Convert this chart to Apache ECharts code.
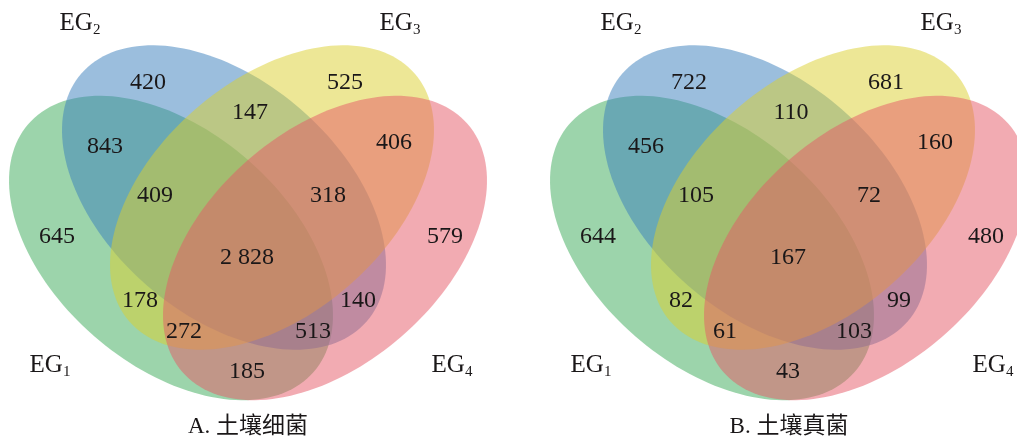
<!DOCTYPE html>
<html>
<head>
<meta charset="utf-8">
<script src="https://cdn.jsdelivr.net/npm/echarts@6/dist/echarts.min.js"></script>
<style>
  html, body { margin: 0; padding: 0; background: #fff; }
  #chart { width: 1017px; height: 439px; }
</style>
</head>
<body>
<div id="chart"></div>
<script>
// ---- data ----
const setNames = ['EG1', 'EG2', 'EG3', 'EG4'];
// regions named by the sets they belong to
const regionKeys = ['1', '2', '3', '4', '12', '23', '34', '123', '234', '1234', '13', '24', '134', '124', '14'];
const bacteriaCounts = [645, 420, 525, 579, 843, 147, 406, 409, 318, 2828, 178, 140, 272, 513, 185];
const fungiCounts = [644, 722, 681, 480, 456, 110, 160, 105, 72, 167, 82, 99, 61, 103, 43];
const panelTitles = ['A. 土壤细菌', 'B. 土壤真菌'];

// ---- layout (venn units, y up, origin at the middle of a panel) ----
// [cx, cy, rx, ry, angle in degrees]
const ellipseShapes = [
  [-77, -28, 189, 117, -41],
  [-24, 22.5, 189, 117, -41],
  [24, 22.5, 189, 117, 41],
  [77, -28, 189, 117, 41]
];
const ellipseColors = [
  'rgba(58, 170, 88, 0.5)',
  'rgba(55, 125, 187, 0.5)',
  'rgba(220, 207, 45, 0.5)',
  'rgba(230, 88, 102, 0.5)'
];
const regionAnchors = {
  '1': [-191, -17], '2': [-100, 137], '3': [97, 137], '4': [197, -17],
  '12': [-143, 73], '23': [2, 107], '34': [146, 77],
  '123': [-93, 24], '234': [80, 24], '1234': [-1, -38],
  '13': [-108, -81], '24': [110, -81], '134': [-64, -112], '124': [65, -112], '14': [-1, -152]
};
const setAnchors = [[-198, -145], [-168, 197], [152, 197], [204, -145]];

const serif = "'Liberation Serif', 'Times New Roman', serif";
const textColor = '#1a1718';

function fmt(v) {
  return String(v).replace(/\B(?=(\d{3})+(?!\d))/g, ' ');
}

function ellipseItem(params, api) {
  const cx = api.value(0), cy = api.value(1);
  const rx = api.value(2), ry = api.value(3);
  const t = api.value(4) * Math.PI / 180;
  const pts = [];
  for (let i = 0; i < 160; i++) {
    const u = (i / 160) * Math.PI * 2;
    const x = cx + rx * Math.cos(u) * Math.cos(t) - ry * Math.sin(u) * Math.sin(t);
    const y = cy + rx * Math.cos(u) * Math.sin(t) + ry * Math.sin(u) * Math.cos(t);
    pts.push(api.coord([x, y]));
  }
  return {
    type: 'polygon',
    shape: { points: pts },
    style: { fill: ellipseColors[params.dataIndex], stroke: null }
  };
}

function panelSeries(idx, counts) {
  return [
    {
      type: 'custom',
      xAxisIndex: idx,
      yAxisIndex: idx,
      renderItem: ellipseItem,
      encode: { x: 0, y: 1 },
      data: ellipseShapes,
      silent: true,
      z: 1
    },
    {
      type: 'scatter',
      xAxisIndex: idx,
      yAxisIndex: idx,
      symbolSize: 0,
      silent: true,
      z: 3,
      itemStyle: { opacity: 1 },
      data: regionKeys.map((k, i) => [regionAnchors[k][0], regionAnchors[k][1], counts[i]]),
      label: {
        show: true,
        position: 'inside',
        formatter: p => fmt(p.value[2]),
        fontFamily: serif,
        fontSize: 24,
        color: textColor,
        opacity: 1,
        textBorderWidth: 0
      }
    },
    {
      type: 'scatter',
      xAxisIndex: idx,
      yAxisIndex: idx,
      symbolSize: 0,
      silent: true,
      z: 3,
      itemStyle: { opacity: 1 },
      data: setNames.map((n, i) => ({ value: setAnchors[i], name: n })),
      label: {
        show: true,
        position: 'inside',
        formatter: p => '{m|' + p.name.slice(0, 2) + '}{s|' + p.name.slice(2) + '}',
        opacity: 1,
        textBorderWidth: 0,
        rich: {
          m: { fontFamily: serif, fontSize: 25, lineHeight: 30, color: textColor, textBorderWidth: 0 },
          s: { fontFamily: serif, fontSize: 15, lineHeight: 15, verticalAlign: 'bottom', color: textColor, textBorderWidth: 0 }
        }
      }
    }
  ];
}

const chart = echarts.init(document.getElementById('chart'));
chart.setOption({
  animation: false,
  backgroundColor: '#fff',
  grid: [
    { left: 0, top: 0, width: 496, height: 439 },
    { left: 541, top: 0, width: 476, height: 439 }
  ],
  xAxis: [
    { gridIndex: 0, type: 'value', min: -248, max: 248, show: false },
    { gridIndex: 1, type: 'value', min: -248, max: 228, show: false }
  ],
  yAxis: [
    { gridIndex: 0, type: 'value', min: -219, max: 220, show: false },
    { gridIndex: 1, type: 'value', min: -219, max: 220, show: false }
  ],
  graphic: panelTitles.map((t, i) => ({
    type: 'text',
    x: i === 0 ? 248 : 789,
    y: 427,
    style: {
      text: t,
      fontFamily: "'Liberation Serif', 'Noto Sans CJK SC', serif",
      fontSize: 23,
      fill: textColor,
      align: 'center',
      verticalAlign: 'middle'
    }
  })),
  series: [
    ...panelSeries(0, bacteriaCounts),
    ...panelSeries(1, fungiCounts)
  ]
});
</script>
</body>
</html>
